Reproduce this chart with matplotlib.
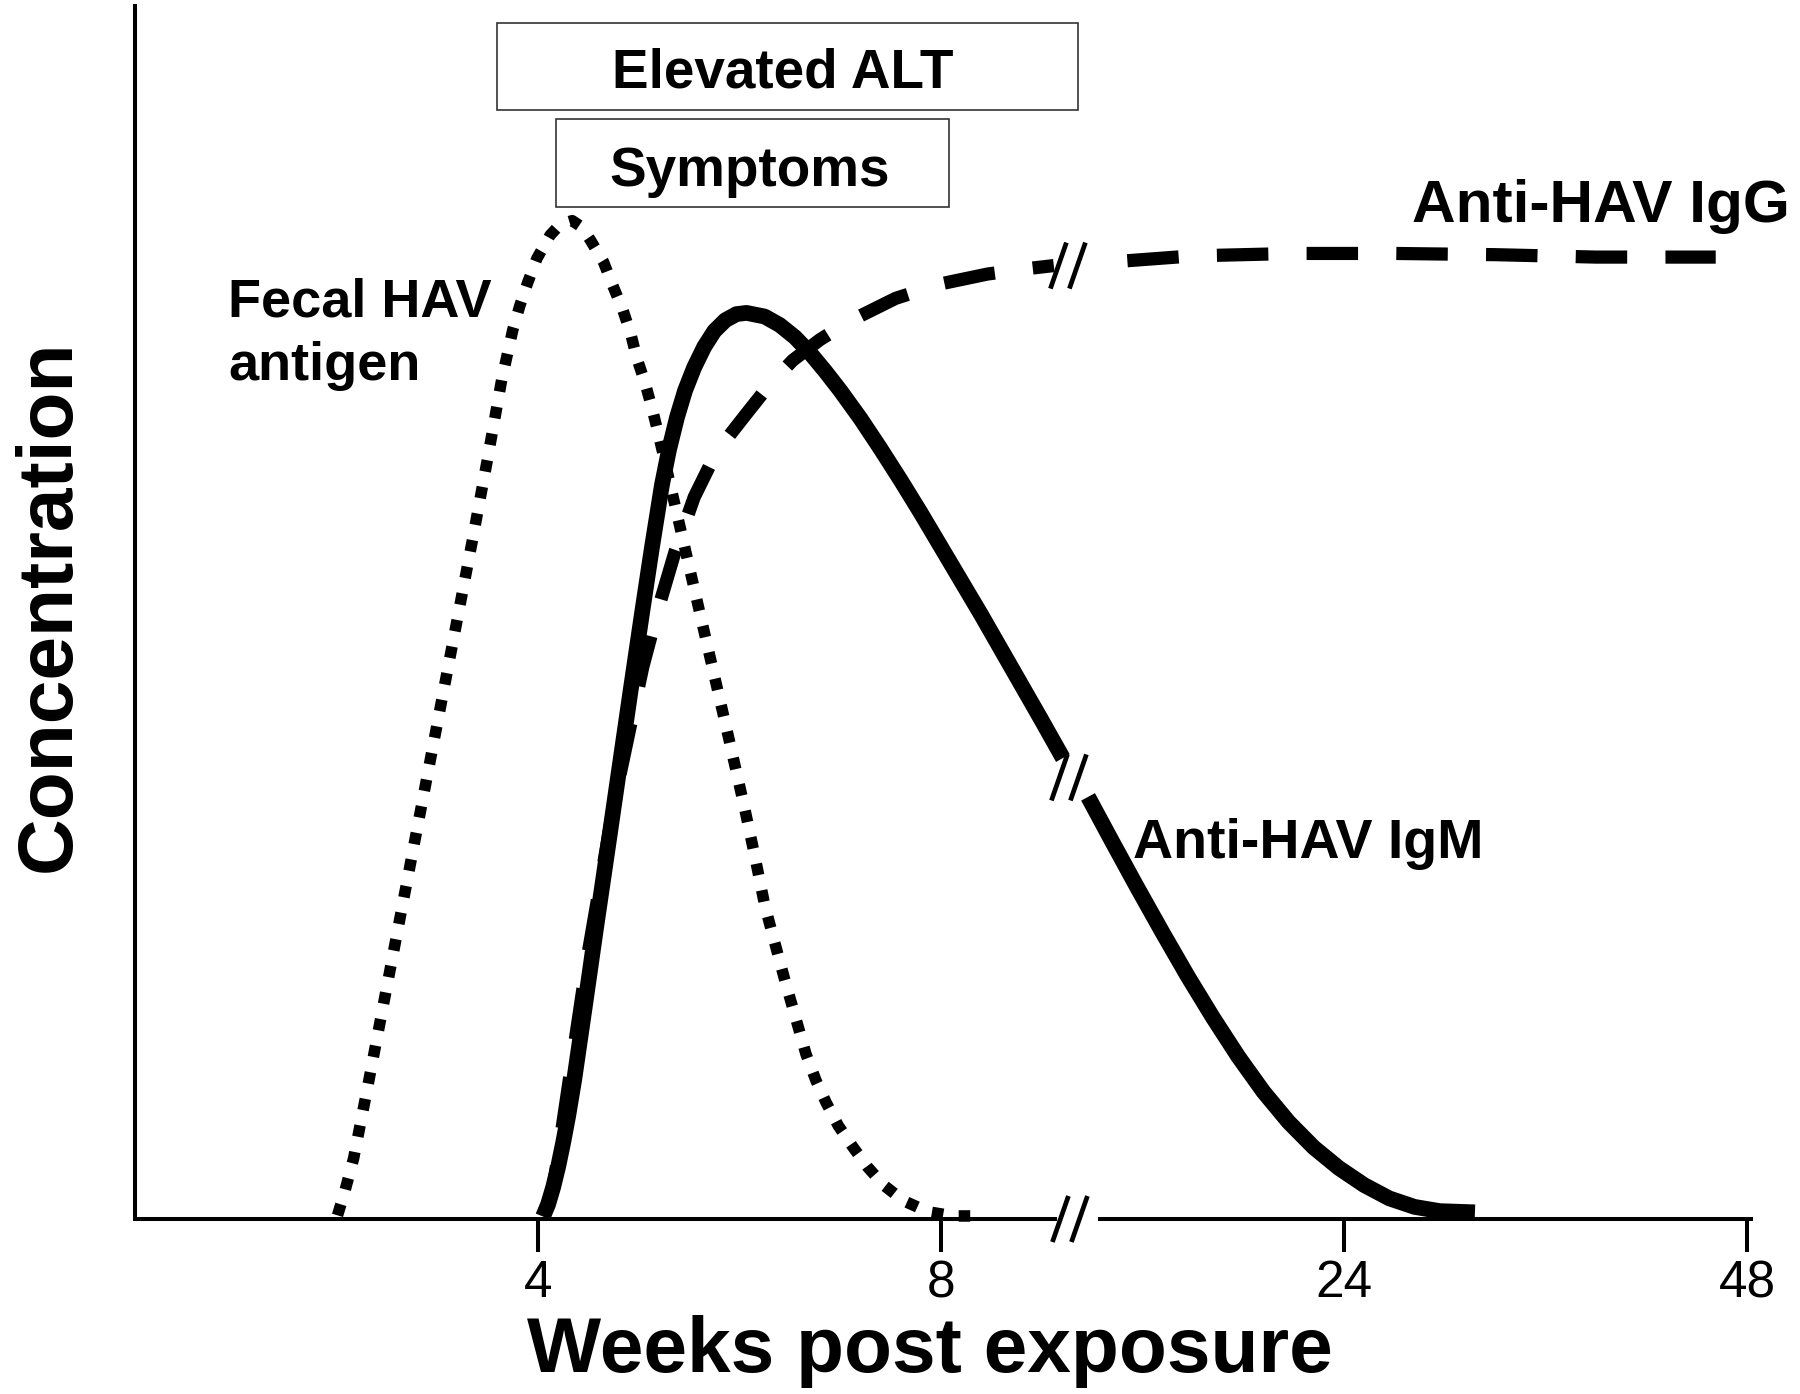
import matplotlib
matplotlib.use("Agg")
import matplotlib.pyplot as plt
from matplotlib.lines import Line2D
from matplotlib.patches import Rectangle
from matplotlib import font_manager

plt.rcParams['font.family'] = ['Liberation Sans', 'DejaVu Sans']

# ---- data (x in schematic axis positions; ticks at 4, 8, 24, 48 weeks) ----
tick_pos = [4, 8, 12, 16]
tick_labels = ['4', '8', '24', '48']
break_pos = 9.36

fecal_x = [2.01, 2.08, 2.17, 2.30, 2.45, 2.60, 2.75, 2.90, 3.05, 3.20, 3.35, 3.50,
           3.64, 3.75, 3.82, 3.90, 3.99, 4.12, 4.22, 4.34, 4.43, 4.52, 4.65, 4.74,
           4.84, 4.92, 4.98, 5.06, 5.13, 5.19, 5.30, 5.45, 5.60, 5.75, 5.90, 6.05,
           6.15, 6.25, 6.32, 6.45, 6.56, 6.66, 6.76, 6.86, 6.98, 7.12, 7.27, 7.43,
           7.63, 7.87, 8.12, 8.42]
fecal_y = [0.3, 2.2, 5.0, 10.5, 17.0, 23.5, 30.0, 36.5, 43.0, 49.5, 56.0, 62.7,
           69.2, 73.3, 75.3, 77.25, 79.2, 81.1, 82.0, 82.3, 81.8, 80.7, 78.9, 77.0,
           75.0, 73.0, 71.0, 69.0, 66.9, 64.9, 61.0, 55.6, 50.2, 44.8, 39.4, 33.9,
           30.0, 25.9, 23.7, 19.7, 16.5, 13.6, 11.4, 9.6, 7.7, 6.0, 4.3, 2.8,
           1.5, 0.6, 0.25, 0.25]

igm_x1 = [4.05, 4.10, 4.15, 4.20, 4.25, 4.30, 4.36, 4.47, 4.58, 4.70, 4.81, 4.92,
          5.03, 5.13, 5.23, 5.30, 5.38, 5.46, 5.55, 5.65, 5.75, 5.86, 5.97, 6.07,
          6.25, 6.40, 6.55, 6.70, 6.85, 7.00, 7.20, 7.40, 7.60, 7.80, 8.00, 8.20,
          8.40, 8.60, 8.80, 9.00, 9.21]
igm_y1 = [0.2, 1.2, 2.6, 4.3, 6.3, 8.5, 11.5, 17.8, 24.2, 31.0, 37.3, 43.6,
          49.8, 55.3, 60.5, 63.4, 66.1, 68.3, 70.2, 71.9, 73.2, 74.1, 74.6, 74.7,
          74.4, 73.7, 72.7, 71.4, 69.9, 68.3, 66.0, 63.5, 60.9, 58.2, 55.4, 52.6,
          49.8, 46.9, 44.0, 41.1, 38.0]
igm_x2 = [9.46, 9.70, 9.95, 10.20, 10.45, 10.70, 10.95, 11.20, 11.45, 11.70,
          11.95, 12.20, 12.45, 12.70, 12.95, 13.30]
igm_y2 = [34.8, 31.1, 27.3, 23.6, 20.0, 16.6, 13.4, 10.5, 8.0, 5.9,
          4.2, 2.8, 1.7, 1.0, 0.65, 0.55]

igg_x1 = [4.05, 4.15, 4.32, 4.50, 4.76, 5.04, 5.20, 5.36, 5.55, 5.71, 5.90, 6.07,
          6.30, 6.53, 6.80, 7.09, 7.55, 8.00, 8.46, 8.91, 9.12]
igg_y1 = [0.3, 2.5, 12.0, 22.0, 34.5, 45.5, 50.5, 55.0, 59.5, 62.2, 64.6, 66.4,
          68.8, 70.8, 72.5, 74.0, 75.9, 77.1, 77.9, 78.4, 78.6]
igg_x2 = [9.85, 10.5, 11.5, 12.5, 13.5, 14.5, 15.69]
igg_y2 = [79.0, 79.4, 79.6, 79.6, 79.5, 79.3, 79.3]

alt_range = (3.593, 9.36)
symptoms_range = (4.18, 8.075)

# tick font: narrow variant if available
installed = {f.name for f in font_manager.fontManager.ttflist}
if 'Liberation Sans Narrow' in installed:
    tick_font = dict(family=['Liberation Sans Narrow', 'Liberation Sans'], size=40)
else:
    tick_font = dict(family=['Liberation Sans'], size=37)

# ---- figure ----
W, H = 1800, 1394
fig = plt.figure(figsize=(18, 13.94), dpi=100)
ax = fig.add_axes([135 / W, 1 - 1219 / H, (1753 - 135) / W, 1213 / H])
ax.set_xlim(0, 16.06)
ax.set_ylim(0, 100)

ax.plot(igm_x1, igm_y1, color='black', lw=11.3, solid_capstyle='butt', solid_joinstyle='round', clip_on=False)
ax.plot(igm_x2, igm_y2, color='black', lw=11.3, solid_capstyle='butt', solid_joinstyle='round', clip_on=False)
ax.plot(igg_x1, igg_y1, color='black', lw=9.5, linestyle=(0, (3.9, 2.9)), dash_capstyle='butt', clip_on=False)
ax.plot(igg_x2, igg_y2, color='black', lw=9.5, linestyle=(0, (3.9, 2.9)), dash_capstyle='butt', clip_on=False)
ax.plot(fecal_x, fecal_y, color='black', lw=8.3, linestyle=(0, (1.0, 1.35)), dash_capstyle='butt', clip_on=False)

# axes
for s in ['top', 'right', 'bottom']:
    ax.spines[s].set_visible(False)
ax.spines['left'].set_linewidth(2.9)
ax.plot([0, break_pos - 0.21], [0, 0], color='black', lw=2.9, solid_capstyle='butt', clip_on=False)
ax.plot([break_pos + 0.2, 16.06], [0, 0], color='black', lw=2.9, solid_capstyle='butt', clip_on=False)
ax.set_yticks([])
ax.set_xticks(tick_pos)
ax.set_xticklabels(tick_labels, fontdict=tick_font)
ax.tick_params(axis='x', direction='out', length=23.8, width=2.9, pad=5)


def draw_break(xd, yd):
    cx, cy = ax.transData.transform((xd, yd))
    inv = fig.transFigure.inverted()
    for off in (-9.5, 9.5):
        p1 = inv.transform((cx + off - 8, cy - 23))
        p2 = inv.transform((cx + off + 8, cy + 23))
        fig.add_artist(Line2D([p1[0], p2[0]], [p1[1], p2[1]], color='black', lw=3.4,
                              transform=fig.transFigure, solid_capstyle='butt'))


draw_break(break_pos - 0.08, 0)
draw_break(break_pos - 0.09, 36.4)
draw_break(break_pos - 0.10, 78.6)

# boxes
ax.add_patch(Rectangle((alt_range[0], 91.4), alt_range[1] - alt_range[0], 7.2,
                       facecolor='white', edgecolor='#333333', lw=1.2, clip_on=False))
ax.add_patch(Rectangle((symptoms_range[0], 83.4), symptoms_range[1] - symptoms_range[0], 7.3,
                       facecolor='white', edgecolor='#333333', lw=1.2, clip_on=False))
ax.text(sum(alt_range) / 2 - 0.05, 93.3, 'Elevated ALT', ha='center', va='baseline', fontsize=39.5, fontweight='bold')
ax.text(sum(symptoms_range) / 2 - 0.03, 85.2, 'Symptoms', ha='center', va='baseline', fontsize=39.5, fontweight='bold')

# labels
ax.text(0.923, 74.4, 'Fecal HAV', ha='left', va='baseline', fontsize=39, fontweight='bold')
ax.text(0.923, 69.2, 'antigen', ha='left', va='baseline', fontsize=39, fontweight='bold')
ax.text(9.906, 29.8, 'Anti-HAV IgM', ha='left', va='baseline', fontsize=40, fontweight='bold')
ax.text(12.675, 82.2, 'Anti-HAV IgG', ha='left', va='baseline', fontsize=43.5, fontweight='bold', clip_on=False)

fig.text(930 / W, 1 - 1372 / H, 'Weeks post exposure', ha='center', va='baseline', fontsize=56.5, fontweight='bold')
fig.text(70 / W, 1 - 606 / H, 'Concentration', ha='center', va='baseline', rotation=90,
         rotation_mode='anchor', fontsize=56.5, fontweight='bold')

fig.savefig('out.png', dpi=100, facecolor='white')
